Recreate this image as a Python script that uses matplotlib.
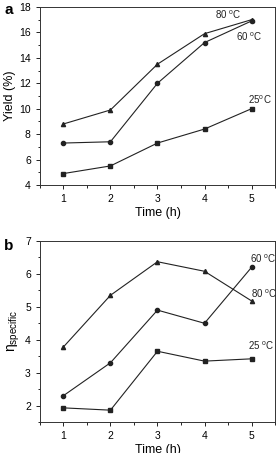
import matplotlib
matplotlib.use('Agg')
import matplotlib.pyplot as plt
from matplotlib.ticker import MultipleLocator

plt.rcParams['font.family'] = ['Liberation Sans', 'DejaVu Sans']
plt.rcParams['mathtext.default'] = 'regular'

time_h = [1, 2, 3, 4, 5]

# panel a: yield (%)
yield_80 = [8.8, 9.9, 13.5, 15.9, 17.0]
yield_60 = [7.3, 7.4, 12.0, 15.2, 16.9]
yield_25 = [4.9, 5.5, 7.3, 8.4, 10.0]

# panel b: specific viscosity
eta_80 = [3.78, 5.35, 6.37, 6.08, 5.18]
eta_60 = [2.3, 3.3, 4.9, 4.5, 6.2]
eta_25 = [1.93, 1.86, 3.65, 3.35, 3.42]

lc = '#222222'
tickSize = 7.5
lsize = 9

fig = plt.figure(figsize=(2.77, 4.53), dpi=100)
axa = fig.add_axes([0.144, 0.5916, 0.849, 0.393])
axb = fig.add_axes([0.144, 0.0684, 0.849, 0.3996])


def style(ax):
    ax.set_xlim(0.5, 5.5)
    ax.xaxis.set_major_locator(MultipleLocator(1))
    ax.xaxis.set_minor_locator(MultipleLocator(0.5))
    ax.tick_params(which='both', direction='out', labelsize=tickSize,
                   top=False, right=False, width=0.6)
    ax.tick_params(which='major', length=3)
    ax.tick_params(which='minor', length=1.8)
    for s in ax.spines.values():
        s.set_linewidth(0.7)
        s.set_color('#333333')
    ax.set_xlabel('Time (h)', fontsize=lsize, labelpad=2)


mk = dict(color=lc, lw=0.8, ms=3)
axa.plot(time_h, yield_80, marker='^', **mk)
axa.plot(time_h, yield_60, marker='o', **mk)
axa.plot(time_h, yield_25, marker='s', **mk)
style(axa)
axa.set_ylim(4, 18)
axa.yaxis.set_major_locator(MultipleLocator(2))
axa.yaxis.set_minor_locator(MultipleLocator(1))
axa.set_ylabel('Yield (%)', fontsize=lsize, labelpad=2)
txt = dict(fontsize=7, color=lc, va='center')
axa.text(4.22, 17.37, '80 $^o$C', **txt)
axa.text(4.67, 15.64, '60 $^o$C', **txt)
axa.text(4.93, 10.68, '25$^o$C', **txt)

axb.plot(time_h, eta_80, marker='^', **mk)
axb.plot(time_h, eta_60, marker='o', **mk)
axb.plot(time_h, eta_25, marker='s', **mk)
style(axb)
axb.set_ylim(1.5, 7)
axb.yaxis.set_major_locator(MultipleLocator(1))
axb.yaxis.set_minor_locator(MultipleLocator(0.5))
axb.set_ylabel(r'$\eta_{specific}$', fontsize=lsize + 1, labelpad=2)
axb.text(4.97, 6.45, '60 $^o$C', **txt)
axb.text(4.99, 5.41, '80 $^o$C', **txt)
axb.text(4.93, 3.83, '25 $^o$C', **txt)

fig.text(0.015, 0.978, 'a', fontsize=11, fontweight='bold', va='center')
fig.text(0.015, 0.458, 'b', fontsize=11, fontweight='bold', va='center')

fig.savefig('out.png', dpi=100)
